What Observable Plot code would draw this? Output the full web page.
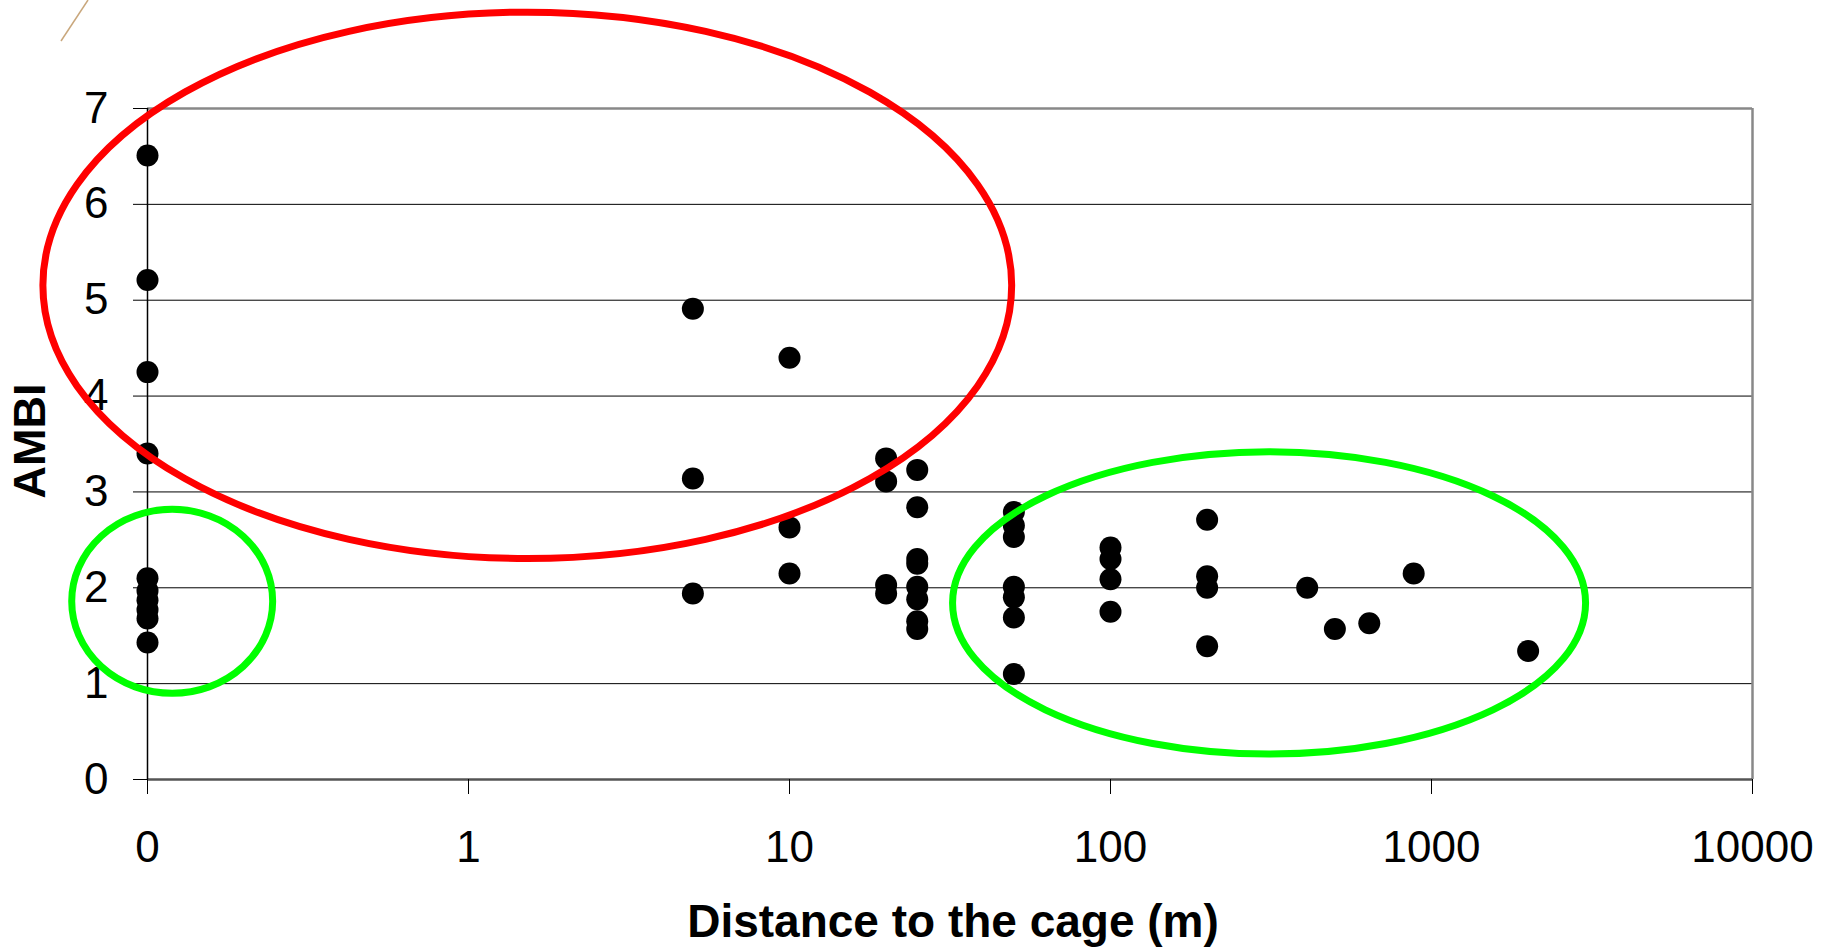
<!DOCTYPE html>
<html>
<head>
<meta charset="utf-8">
<script src="https://cdn.jsdelivr.net/npm/d3@7"></script>
<script src="https://cdn.jsdelivr.net/npm/@observablehq/plot@0.6"></script>
<style>
  html, body { margin: 0; padding: 0; background: #fff; }
  #wrap { position: relative; width: 1831px; height: 951px; }
  #deco { position: absolute; left: 0; top: 0; pointer-events: none; }
</style>
</head>
<body>
<div id="wrap">
  <svg id="deco" width="120" height="60"><line x1="88" y1="0" x2="61" y2="41" stroke="#c9a77c" stroke-width="1.5"/></svg>
</div>
<script>
// ---- data (distance in m, AMBI value) ----
const distance = [
  0, 0, 0, 0, 0, 0, 0, 0, 0, 0,
  5, 5, 5,
  10, 10, 10,
  20, 20, 20, 20,
  25, 25, 25, 25, 25, 25, 25, 25,
  50, 50, 50, 50, 50, 50, 50,
  100, 100, 100, 100,
  200, 200, 200, 200,
  410, 500, 640, 880, 2000
];
const ambi = [
  6.51, 5.21, 4.25, 3.40, 2.10, 1.97, 1.87, 1.77, 1.68, 1.43,
  4.91, 3.14, 1.94,
  4.40, 2.63, 2.15,
  3.35, 3.11, 2.03, 1.94,
  3.23, 2.84, 2.30, 2.25, 2.01, 1.88, 1.65, 1.57,
  2.79, 2.65, 2.53, 2.01, 1.90, 1.69, 1.10,
  2.42, 2.30, 2.09, 1.75,
  2.71, 2.12, 2.00, 1.39,
  2.00, 1.57, 1.63, 2.15, 1.34
];
// "0" is drawn at the first decade of the log axis
const ZERO_AT = 0.1;
const xTicks = [0.1, 1, 10, 100, 1000, 10000];
const xTickLabels = ["0", "1", "10", "100", "1000", "10000"];
const yTicks = [0, 1, 2, 3, 4, 5, 6, 7];
const yTickLabels = ["0", "1", "2", "3", "4", "5", "6", "7"];
const yGrid = [1, 2, 3, 4, 5, 6];
const xTitle = "Distance to the cage (m)";
const yTitle = "AMBI";

// hand-drawn highlight ellipses (centre in data units, x-radius in decades, y-radius in AMBI units)
const ellipseColor = ["#ff0000", "#00ff00", "#00ff00"];
const ellipseCx = [1.53, 0.1198, 313];
const ellipseRxDecades = [1.509, 0.313, 0.986];
const ellipseCy = [5.15, 1.854, 1.837];
const ellipseRy = [2.85, 0.96, 1.577];

const points = distance.map((d, i) => ({x: d === 0 ? ZERO_AT : d, y: ambi[i]}));

const chart = Plot.plot({
  width: 1831,
  height: 951,
  marginLeft: 147,
  marginRight: 79,
  marginTop: 108,
  marginBottom: 172,
  style: {fontFamily: "'Liberation Sans', Arial, sans-serif", fontSize: "44px", color: "#000", background: "#fff", overflow: "visible"},
  x: {type: "log", domain: [0.1, 10000]},
  y: {domain: [0, 7]},
  marks: [
    Plot.gridY(yGrid, {stroke: "#000", strokeOpacity: 1, strokeWidth: 1}),
    Plot.ruleY([7], {stroke: "#888", strokeWidth: 2.5}),
    Plot.ruleX([10000], {stroke: "#888", strokeWidth: 2.5}),
    Plot.ruleY([0], {stroke: "#555", strokeWidth: 2.5}),
    Plot.ruleX([ZERO_AT], {stroke: "#000", strokeWidth: 1.5}),
    Plot.axisX(xTicks, {
      tickSize: 15, tickPadding: 36, label: null,
      tickFormat: d => xTickLabels[xTicks.indexOf(d)]
    }),
    Plot.axisY(yTicks, {
      tickSize: 14, tickPadding: 25, label: null,
      tickFormat: d => yTickLabels[yTicks.indexOf(d)]
    }),
    Plot.dot(points, {x: "x", y: "y", r: 11, fill: "#000", stroke: null}),
    Plot.text([xTitle], {text: d => d, frameAnchor: "bottom", lineAnchor: "middle", textAnchor: "middle", dx: 3, dy: 143, fontWeight: "bold", fontSize: 46}),
    Plot.text([yTitle], {text: d => d, frameAnchor: "left", textAnchor: "middle", lineAnchor: "middle", dx: -117, dy: -3, rotate: -90, fontWeight: "bold", fontSize: 45})
  ]
});

// overlay the ellipses through the plot's own scales
const sxOpt = chart.scale("x"), syOpt = chart.scale("y");
const sx = sxOpt.apply ? (v => sxOpt.apply(v)) : d3.scaleLog().domain(sxOpt.domain).range(sxOpt.range);
const sy = syOpt.apply ? (v => syOpt.apply(v)) : d3.scaleLinear().domain(syOpt.domain).range(syOpt.range);
const svgSel = d3.select(chart);
ellipseCx.forEach((c, i) => {
  const cx = sx(c), cy = sy(ellipseCy[i]);
  const rx = sx(c * Math.pow(10, ellipseRxDecades[i])) - cx;
  const ry = sy(ellipseCy[i] - ellipseRy[i]) - cy;
  svgSel.append("ellipse")
    .attr("cx", cx).attr("cy", cy).attr("rx", rx).attr("ry", ry)
    .attr("fill", "none").attr("stroke", ellipseColor[i]).attr("stroke-width", 7);
});

document.getElementById("wrap").appendChild(chart);
</script>
</body>
</html>
